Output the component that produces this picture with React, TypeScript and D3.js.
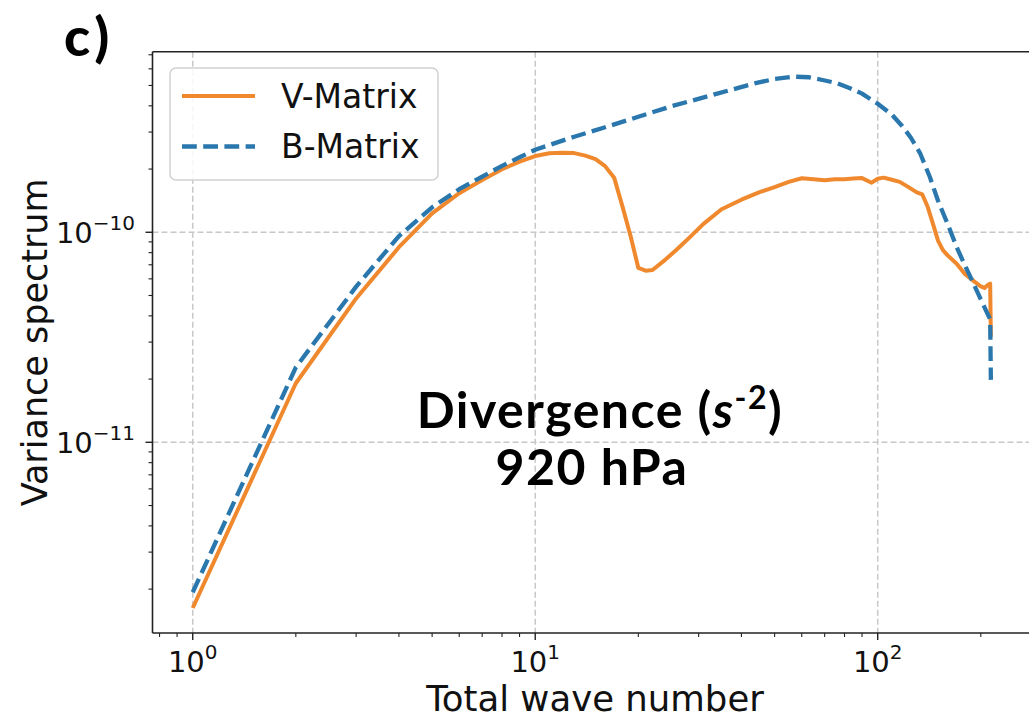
import React from 'react';
import * as d3 from 'd3';

// ---- data ----
const waveV = [1, 2, 3, 4, 5, 6, 7, 8, 9, 10, 11, 12, 13, 14, 15, 16, 17, 18, 19, 20, 21, 22, 24, 26, 28, 31, 35, 40, 45, 50, 55, 60, 65, 70, 75, 80, 85, 90, 96, 100, 104, 110, 116, 123, 130, 135, 140, 145, 150, 155, 160, 170, 180, 190, 200, 205, 210, 213, 214];
const varV = [1.626e-12, 1.91e-11, 4.84e-11, 8.49e-11, 1.23e-10, 1.535e-10, 1.774e-10, 1.995e-10, 2.168e-10, 2.307e-10, 2.377e-10, 2.388e-10, 2.382e-10, 2.317e-10, 2.228e-10, 2.065e-10, 1.82e-10, 1.318e-10, 9.55e-11, 6.76e-11, 6.56e-11, 6.61e-11, 7.41e-11, 8.32e-11, 9.33e-11, 1.096e-10, 1.288e-10, 1.429e-10, 1.549e-10, 1.641e-10, 1.738e-10, 1.807e-10, 1.786e-10, 1.77e-10, 1.786e-10, 1.79e-10, 1.803e-10, 1.811e-10, 1.722e-10, 1.799e-10, 1.82e-10, 1.778e-10, 1.738e-10, 1.641e-10, 1.549e-10, 1.514e-10, 1.318e-10, 1.096e-10, 9.12e-11, 8.22e-11, 7.76e-11, 7.08e-11, 6.31e-11, 5.89e-11, 5.52e-11, 5.43e-11, 5.62e-11, 5.69e-11, 3.18e-11];

const waveB = [1, 2, 3, 4, 5, 6, 7, 8, 9, 10, 13, 16, 20, 25, 28, 34, 44, 50, 57, 63, 69, 76, 83, 90, 100, 110, 118, 125, 133, 142, 150, 160, 170, 180, 190, 200, 213, 214];
const varB = [1.932e-12, 2.275e-11, 5.51e-11, 9.59e-11, 1.315e-10, 1.603e-10, 1.841e-10, 2.07e-10, 2.275e-10, 2.472e-10, 2.851e-10, 3.162e-10, 3.548e-10, 3.981e-10, 4.188e-10, 4.571e-10, 5.129e-10, 5.37e-10, 5.508e-10, 5.47e-10, 5.309e-10, 5.129e-10, 4.853e-10, 4.571e-10, 4.093e-10, 3.631e-10, 3.199e-10, 2.818e-10, 2.377e-10, 1.832e-10, 1.413e-10, 1.096e-10, 8.51e-11, 6.92e-11, 5.75e-11, 4.79e-11, 3.846e-11, 1.982e-11];

const seriesNames = ['V-Matrix', 'B-Matrix'];
const seriesColors = ['#f0892d', '#2a77ad'];

const xDomain = [0.763, 278.4];
const yDomain = [1.236e-12, 7.24e-10];
const xMajor = [1, 10, 100];
const xMajorExp = ['0', '1', '2'];
const yMajor = [1e-11, 1e-10];
const yMajorExp = ['\u221211', '\u221210'];

const xLabel = 'Total wave number';
const yLabel = 'Variance spectrum';
const panelLabel = 'c)';
const annotVar = 'Divergence (';
const annotUnit = 's';
const annotExp = '-2';
const annotLevel = '920 hPa';

const W = 1029;
const H = 719;
const M = { left: 152.5, right: 1030, top: 51.7, bottom: 633 };

function minorTicks(domain: number[]) {
  const out: number[] = [];
  const lo = Math.floor(Math.log10(domain[0]));
  const hi = Math.ceil(Math.log10(domain[1]));
  for (let e = lo; e <= hi; e++) {
    for (let m = 2; m <= 9; m++) {
      const v = m * Math.pow(10, e);
      if (v >= domain[0] && v <= domain[1]) out.push(v);
    }
  }
  return out;
}

export default function App() {
  const x = d3.scaleLog().domain(xDomain).range([M.left, M.right]);
  const y = d3.scaleLog().domain(yDomain).range([M.bottom, M.top]);

  const line = d3
    .line<[number, number]>()
    .x((d) => x(d[0]))
    .y((d) => y(d[1]))
    .curve(d3.curveLinear);

  const dV = line(waveV.map((w, i) => [w, varV[i]] as [number, number])) || '';
  const dB = line(waveB.map((w, i) => [w, varB[i]] as [number, number])) || '';

  const font = "'DejaVu Sans', sans-serif";
  const boldFont = "'Lato', 'DejaVu Sans', sans-serif";
  const gridColor = '#c8c8c8';
  const xMin = minorTicks(xDomain);
  const yMin = minorTicks(yDomain);

  const legX = 170;
  const legY = 68;

  return (
    <svg
      width={W}
      height={H}
      style={{ position: 'absolute', left: 0, top: 0, display: 'block', background: '#fff' }}
    >
      <rect x={0} y={0} width={W} height={H} fill="#fff" />
      {/* grid */}
      {xMajor.map((v) => (
        <line key={'gx' + v} x1={x(v)} x2={x(v)} y1={M.top} y2={M.bottom} stroke={gridColor} strokeWidth={1.5} strokeDasharray="6 3" />
      ))}
      {yMajor.map((v) => (
        <line key={'gy' + v} x1={M.left} x2={M.right} y1={y(v)} y2={y(v)} stroke={gridColor} strokeWidth={1.5} strokeDasharray="6 3" />
      ))}

      {/* annotation */}
      <text x={600} y={428} textAnchor="middle" fontFamily={boldFont} fontWeight={700} fontSize={50} letterSpacing={1.5} fill="#000">
        {annotVar}
        <tspan fontStyle="italic">{annotUnit}</tspan>
        <tspan dy={-19} fontSize={32}>{annotExp}</tspan>
        <tspan dy={19}>)</tspan>
      </text>
      <text x={592} y={485} textAnchor="middle" fontFamily={boldFont} fontWeight={700} fontSize={50} letterSpacing={1.5} fill="#000">
        {annotLevel}
      </text>

      {/* series */}
      <path d={dV} fill="none" stroke={seriesColors[0]} strokeWidth={4} strokeLinejoin="round" strokeLinecap="butt" />
      <path d={dB} fill="none" stroke={seriesColors[1]} strokeWidth={4.3} strokeDasharray="14.8 6.4" strokeLinejoin="round" />

      {/* spines */}
      <line x1={M.left} x2={M.left} y1={M.top} y2={M.bottom} stroke="#222" strokeWidth={1.6} />
      <line x1={M.left} x2={M.right} y1={M.bottom} y2={M.bottom} stroke="#222" strokeWidth={1.6} />
      <line x1={M.left} x2={M.right} y1={M.top} y2={M.top} stroke="#222" strokeWidth={1.6} />
      <line x1={M.right} x2={M.right} y1={M.top} y2={M.bottom} stroke="#222" strokeWidth={1.6} />

      {/* x ticks */}
      {xMajor.map((v, i) => (
        <g key={'xt' + v}>
          <line x1={x(v)} x2={x(v)} y1={M.bottom} y2={M.bottom + 7} stroke="#222" strokeWidth={1.4} />
          <text x={x(v)} y={M.bottom + 39} textAnchor="middle" fontFamily={font} fontSize={29} fill="#111">
            10
            <tspan dy={-13} fontSize={20}>{xMajorExp[i]}</tspan>
          </text>
        </g>
      ))}
      {xMin.map((v) => (
        <line key={'xm' + v} x1={x(v)} x2={x(v)} y1={M.bottom} y2={M.bottom + 4} stroke="#222" strokeWidth={1.1} />
      ))}

      {/* y ticks */}
      {yMajor.map((v, i) => (
        <g key={'yt' + v}>
          <line x1={M.left} x2={M.left - 7} y1={y(v)} y2={y(v)} stroke="#222" strokeWidth={1.4} />
          <text x={135} y={y(v) + 11} textAnchor="end" fontFamily={font} fontSize={29} fill="#111">
            10
            <tspan dy={-13} fontSize={20}>{yMajorExp[i]}</tspan>
          </text>
        </g>
      ))}
      {yMin.map((v) => (
        <line key={'ym' + v} x1={M.left} x2={M.left - 4} y1={y(v)} y2={y(v)} stroke="#222" strokeWidth={1.1} />
      ))}

      {/* axis labels */}
      <text x={595} y={711} textAnchor="middle" fontFamily={font} fontSize={35.5} fill="#111">
        {xLabel}
      </text>
      <text
        transform={`translate(47, ${(M.top + M.bottom) / 2}) rotate(-90)`}
        textAnchor="middle"
        fontFamily={font}
        fontSize={35}
        fill="#111"
      >
        {yLabel}
      </text>

      {/* panel label */}
      <text x={64} y={56} fontFamily={boldFont} fontWeight={900} fontSize={54} letterSpacing={5} fill="#000">
        {panelLabel}
      </text>

      {/* legend */}
      <rect x={legX} y={legY} width={268} height={112} rx={6} fill="#fff" fillOpacity={0.85} stroke="#d2d2d2" strokeWidth={1.5} />
      <line x1={182} x2={255} y1={96} y2={96} stroke={seriesColors[0]} strokeWidth={4} />
      <line x1={182} x2={255} y1={146.5} y2={146.5} stroke={seriesColors[1]} strokeWidth={4.3} strokeDasharray="14.8 6.4" />
      <text x={281} y={108} fontFamily={font} fontSize={33} fill="#111">{seriesNames[0]}</text>
      <text x={281} y={158} fontFamily={font} fontSize={33} fill="#111">{seriesNames[1]}</text>
    </svg>
  );
}
